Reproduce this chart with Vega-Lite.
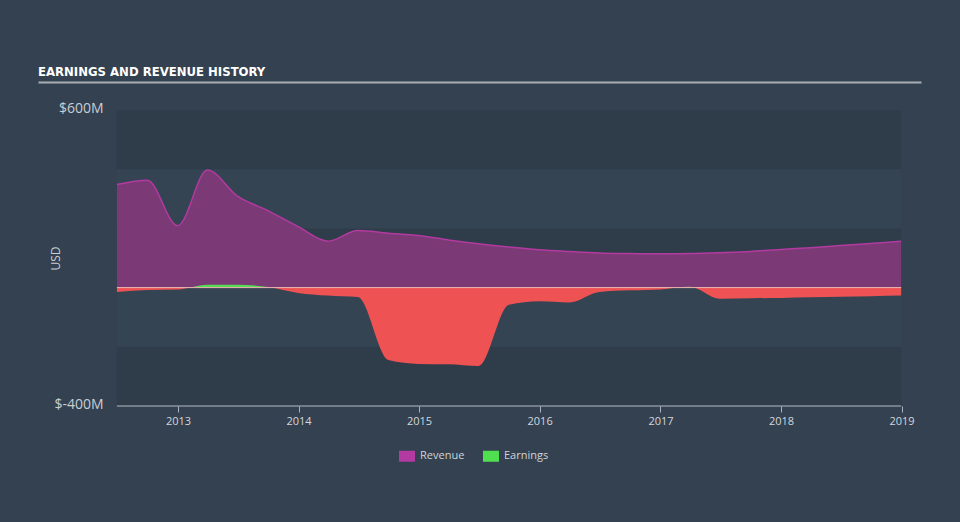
{
  "$schema": "https://vega.github.io/schema/vega-lite/v6.json",
  "width": 883,
  "height": 296,
  "autosize": {"type": "none"},
  "padding": {"left": 38, "right": 39, "top": 110, "bottom": 116},
  "background": "#334150",
  "config": {"view": {"stroke": null}},
  "title": {
    "text": "EARNINGS AND REVENUE HISTORY",
    "anchor": "start",
    "frame": "group",
    "font": "DejaVu Sans Condensed, Roboto, sans-serif",
    "fontSize": 13,
    "fontWeight": "bold",
    "color": "#ffffff",
    "baseline": "alphabetic",
    "offset": -7
  },
  "data": {
    "values": [
      {"date": "2012-06-30", "revenue": 348, "earnings": -15},
      {"date": "2012-09-30", "revenue": 363, "earnings": -8},
      {"date": "2012-12-31", "revenue": 209, "earnings": -6},
      {"date": "2013-03-31", "revenue": 397, "earnings": 10},
      {"date": "2013-06-30", "revenue": 309, "earnings": 10},
      {"date": "2013-09-30", "revenue": 260, "earnings": 2},
      {"date": "2013-12-31", "revenue": 206, "earnings": -18},
      {"date": "2014-03-31", "revenue": 157, "earnings": -27},
      {"date": "2014-06-30", "revenue": 193, "earnings": -32},
      {"date": "2014-09-30", "revenue": 184, "earnings": -245},
      {"date": "2014-12-31", "revenue": 176, "earnings": -258},
      {"date": "2015-03-31", "revenue": 161, "earnings": -259},
      {"date": "2015-06-30", "revenue": 148, "earnings": -265},
      {"date": "2015-09-30", "revenue": 137, "earnings": -58},
      {"date": "2015-12-31", "revenue": 128, "earnings": -46},
      {"date": "2016-03-31", "revenue": 122, "earnings": -50},
      {"date": "2016-06-30", "revenue": 117, "earnings": -15},
      {"date": "2016-09-30", "revenue": 115, "earnings": -9},
      {"date": "2016-12-31", "revenue": 114, "earnings": -6},
      {"date": "2017-03-31", "revenue": 115, "earnings": 3},
      {"date": "2017-06-30", "revenue": 118, "earnings": -38},
      {"date": "2017-09-30", "revenue": 122, "earnings": -36},
      {"date": "2017-12-31", "revenue": 129, "earnings": -35},
      {"date": "2018-03-31", "revenue": 135, "earnings": -33},
      {"date": "2018-06-30", "revenue": 142, "earnings": -31},
      {"date": "2018-09-30", "revenue": 149, "earnings": -29},
      {"date": "2018-12-31", "revenue": 157, "earnings": -27}
    ]
  },
  "resolve": {"axis": {"x": "independent", "y": "independent"}},
  "layer": [
    {
      "mark": {"type": "rect", "color": "#354453"},
      "encoding": {
        "x": {"aggregate": "min", "field": "date", "type": "temporal", "axis": null,
              "scale": {"type": "utc", "domain": [{"year": 2011, "month": 11, "date": 4, "utc": true}, {"year": 2019, "month": 3, "date": 1, "utc": true}]}},
        "x2": {"aggregate": "max", "field": "date"},
        "y": {"datum": 600, "type": "quantitative", "axis": null, "scale": {"domain": [-400, 600], "nice": false, "zero": false}},
        "y2": {"datum": -400}
      }
    },
    {
      "mark": {"type": "rect", "color": "#2f3c4a"},
      "encoding": {
        "x": {"aggregate": "min", "field": "date", "type": "temporal", "axis": null},
        "x2": {"aggregate": "max", "field": "date"},
        "y": {"datum": 600, "type": "quantitative", "axis": null},
        "y2": {"datum": 400}
      }
    },
    {
      "mark": {"type": "rect", "color": "#2f3c4a"},
      "encoding": {
        "x": {"aggregate": "min", "field": "date", "type": "temporal", "axis": null},
        "x2": {"aggregate": "max", "field": "date"},
        "y": {"datum": 200, "type": "quantitative", "axis": null},
        "y2": {"datum": 0}
      }
    },
    {
      "mark": {"type": "rect", "color": "#2f3c4a"},
      "encoding": {
        "x": {"aggregate": "min", "field": "date", "type": "temporal", "axis": null},
        "x2": {"aggregate": "max", "field": "date"},
        "y": {"datum": -200, "type": "quantitative", "axis": null},
        "y2": {"datum": -400}
      }
    },
    {
      "mark": {"type": "area", "fill": "#7b3a75", "interpolate": "monotone"},
      "encoding": {
        "x": {"field": "date", "type": "temporal",
              "axis": {"values": [{"year": 2013, "month": 1, "date": 1, "utc": true}, {"year": 2014, "month": 1, "date": 1, "utc": true}, {"year": 2015, "month": 1, "date": 1, "utc": true}, {"year": 2016, "month": 1, "date": 1, "utc": true}, {"year": 2017, "month": 1, "date": 1, "utc": true}, {"year": 2018, "month": 1, "date": 1, "utc": true}, {"year": 2019, "month": 1, "date": 1, "utc": true}],
                       "format": "%Y", "domain": false, "grid": false, "ticks": true, "tickSize": 6, "tickColor": "#a9b2bd",
                       "labelColor": "#d3d7dc", "labelFont": "Open Sans", "labelFontSize": 11, "labelPadding": 3, "title": null}},
        "y": {"field": "revenue", "type": "quantitative",
              "axis": {"values": [600, -400], "labelExpr": "'$' + datum.value + 'M'", "offset": -79, "domain": false, "ticks": false, "grid": false,
                       "labelColor": "#c9ced3", "labelFont": "Open Sans", "labelFontSize": 14, "labelPadding": 14, "labelOffset": -2,
                       "title": "USD", "titleColor": "#c9ced3", "titleFont": "Open Sans", "titleFontSize": 12, "titleFontWeight": "normal",
                       "titleX": -62, "titleY": 148, "titleAngle": -90, "titleAlign": "center", "titleBaseline": "middle"}},
        "y2": {"datum": 0}
      }
    },
    {
      "mark": {"type": "line", "interpolate": "monotone", "strokeWidth": 1.5},
      "encoding": {
        "x": {"field": "date", "type": "temporal",
              "axis": {"orient": "top", "offset": 28, "domain": true, "domainColor": "#a9aeb4", "domainWidth": 2, "ticks": false, "labels": false, "grid": false, "title": null}},
        "y": {"field": "revenue", "type": "quantitative", "axis": null},
        "color": {"datum": "Revenue",
                  "scale": {"domain": ["Revenue", "Earnings"], "range": ["#b23aa0", "#4fdf4f"]},
                  "legend": {"orient": "none", "legendX": 361, "legendY": 338, "direction": "horizontal", "title": null,
                             "symbolType": "M-1,-0.6875H1V0.6875H-1Z", "symbolSize": 256,
                             "labelFont": "Open Sans", "labelFontSize": 11, "labelColor": "#d0d4d8", "labelOffset": 5, "columnPadding": 18,
                             "encode": {"symbols": {"update": {"fill": {"scale": "color", "field": "value"}, "stroke": {"value": "transparent"}, "strokeWidth": {"value": 0}, "opacity": {"value": 1}}}}}}
      }
    },
    {
      "mark": {"type": "area", "interpolate": "monotone",
               "fill": {"gradient": "linear", "x1": 0, "y1": 0, "x2": 0, "y2": 1,
                        "stops": [{"offset": 0, "color": "#53dd53"}, {"offset": 0.0364, "color": "#53dd53"}, {"offset": 0.0364, "color": "#ee5253"}, {"offset": 1, "color": "#ee5253"}]}},
      "encoding": {
        "x": {"field": "date", "type": "temporal", "axis": null},
        "y": {"field": "earnings", "type": "quantitative", "axis": null},
        "y2": {"datum": 0}
      }
    },
    {
      "mark": {"type": "rule", "color": "#f3b3b3", "strokeWidth": 1},
      "encoding": {
        "x": {"aggregate": "min", "field": "date", "type": "temporal", "axis": null},
        "x2": {"aggregate": "max", "field": "date"},
        "y": {"datum": 0, "type": "quantitative", "axis": null}
      }
    },
    {
      "mark": {"type": "rule", "color": "#b4bcc6", "strokeWidth": 1},
      "encoding": {
        "x": {"aggregate": "min", "field": "date", "type": "temporal", "axis": null},
        "x2": {"aggregate": "max", "field": "date"},
        "y": {"datum": -400, "type": "quantitative", "axis": null}
      }
    }
  ]
}
